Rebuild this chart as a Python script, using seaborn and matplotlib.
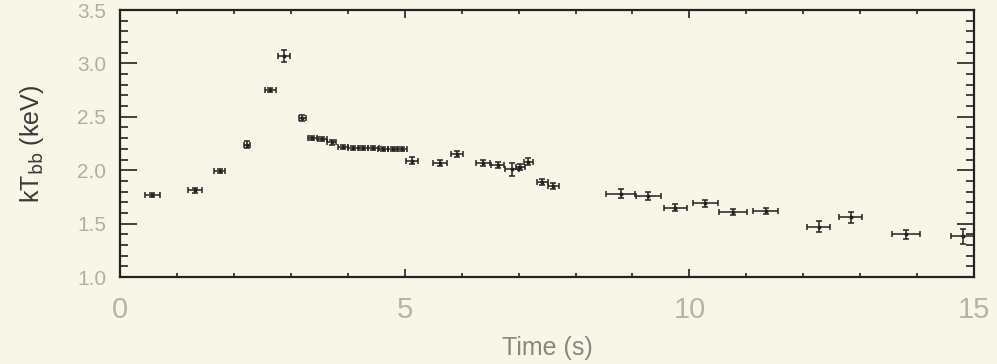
import numpy as np
import pandas as pd
import matplotlib
matplotlib.use("Agg")
import matplotlib.pyplot as plt
import seaborn as sns
from matplotlib.ticker import MultipleLocator

# Blackbody temperature evolution of the burst
time_s = [0.57, 1.32, 1.75, 2.23, 2.64, 2.88, 3.20,
          3.38, 3.55, 3.72, 3.92, 4.10, 4.27, 4.45, 4.62, 4.80, 4.95,
          5.13, 5.62, 5.92,
          6.38, 6.63, 6.89, 7.03, 7.17, 7.42, 7.61,
          8.79, 9.28, 9.75, 10.28,
          10.77, 11.34,
          12.27, 12.83, 13.80, 14.80]
time_err = [0.13, 0.12, 0.10, 0.05, 0.10, 0.10, 0.06,
            0.08, 0.08, 0.08, 0.09, 0.09, 0.09, 0.09, 0.09, 0.09, 0.09,
            0.10, 0.12, 0.10,
            0.12, 0.12, 0.12, 0.08, 0.08, 0.10, 0.10,
            0.25, 0.22, 0.20, 0.22,
            0.25, 0.22,
            0.20, 0.20, 0.25, 0.20]
kt_kev = [1.77, 1.81, 1.99, 2.24, 2.75, 3.07, 2.49,
          2.30, 2.29, 2.26, 2.22, 2.21, 2.21, 2.21, 2.20, 2.20, 2.20,
          2.09, 2.07, 2.15,
          2.07, 2.05, 2.01, 2.03, 2.08, 1.89, 1.85,
          1.78, 1.76, 1.65, 1.69,
          1.61, 1.62,
          1.47, 1.56, 1.40, 1.38]
kt_err = [0.02, 0.02, 0.02, 0.03, 0.02, 0.06, 0.03,
          0.02, 0.02, 0.02, 0.02, 0.02, 0.02, 0.02, 0.02, 0.02, 0.02,
          0.03, 0.03, 0.03,
          0.03, 0.03, 0.06, 0.03, 0.03, 0.03, 0.03,
          0.04, 0.04, 0.03, 0.03,
          0.03, 0.03,
          0.05, 0.05, 0.04, 0.07]

x_ticks = [0, 5, 10, 15]
y_ticks = [1.0, 1.5, 2.0, 2.5, 3.0, 3.5]

df = pd.DataFrame({"t": time_s, "kt": kt_kev, "terr": time_err, "kterr": kt_err})

sns.set_theme(style="ticks")
plt.rcParams["font.family"] = ["Liberation Sans", "DejaVu Sans"]

bg = "#f8f6e6"
ink = "#222222"

fig = plt.figure(figsize=(9.97, 3.64), dpi=100, facecolor=bg)
ax = fig.add_axes([0.1204, 0.239, 0.8566, 0.7335])
ax.set_facecolor(bg)

ax.errorbar(df["t"], df["kt"], xerr=df["terr"], yerr=df["kterr"],
            fmt="none", ecolor=ink, elinewidth=1.1, capsize=2.2, capthick=1.1, zorder=3)
sns.scatterplot(data=df, x="t", y="kt", ax=ax, color=ink, s=8, marker="o",
                edgecolor=ink, linewidth=0, zorder=4, legend=False)

ax.set_xlim(0, 15)
ax.set_ylim(1.0, 3.5)
ax.set_xticks(x_ticks)
ax.set_xticklabels([str(v) for v in x_ticks])
ax.set_yticks(y_ticks)
ax.set_yticklabels([f"{v:.1f}" for v in y_ticks])
ax.xaxis.set_minor_locator(MultipleLocator(1))
ax.yaxis.set_minor_locator(MultipleLocator(0.1))

ax.tick_params(axis="both", which="both", direction="in", color=ink,
               top=True, right=True, width=1.2)
ax.tick_params(axis="y", which="major", length=12, labelsize=15,
               labelcolor="#b3aea4", pad=10)
ax.tick_params(axis="y", which="minor", length=6)
ax.tick_params(axis="x", which="major", length=6, labelsize=21,
               labelcolor="#b8b3a8", pad=14)
ax.tick_params(axis="x", which="minor", length=3)

for sp in ax.spines.values():
    sp.set_color(ink)
    sp.set_linewidth(1.6)

ax.set_xlabel("Time (s)", fontsize=18, color="#8a8680", labelpad=8)
ax.set_ylabel(r"kT$_{\rm bb}$ (keV)", fontsize=18, color="#3a3a3a", labelpad=22)

fig.savefig("out.png", dpi=100, facecolor=bg)
